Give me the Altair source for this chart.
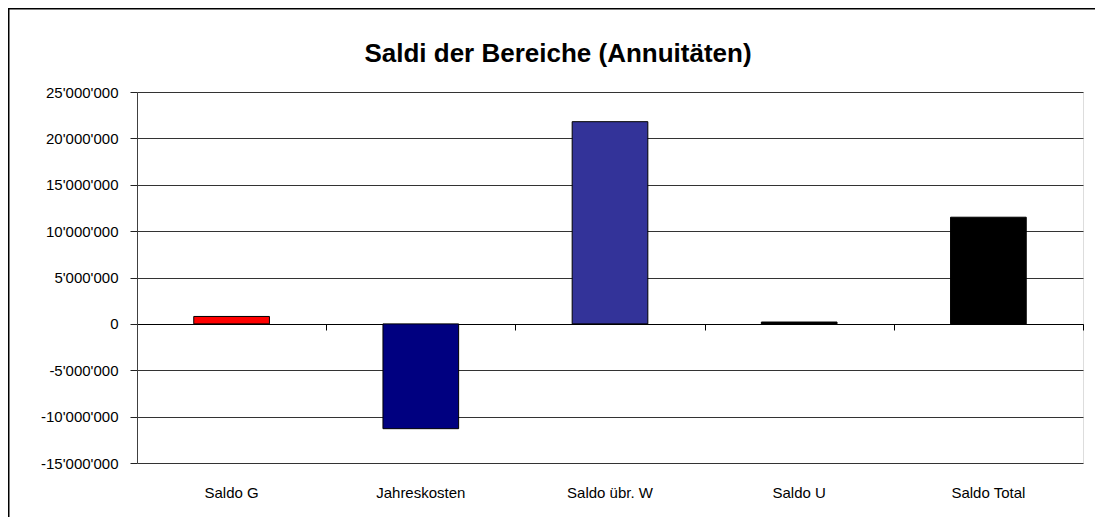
import altair as alt
import pandas as pd

categories = ["Saldo G", "Jahreskosten", "Saldo übr. W", "Saldo U", "Saldo Total"]
values = [800000, -11300000, 21800000, 200000, 11500000]
colors = ["#FF0000", "#000080", "#333399", "#000000", "#000000"]
y_ticks = [-15000000, -10000000, -5000000, 0, 5000000, 10000000, 15000000, 20000000, 25000000]
title_text = "Saldi der Bereiche (Annuitäten)"

df = pd.DataFrame({"cat": categories, "val": values})

FONT = "Liberation Sans"
W, H = 946, 371
PAD_L, PAD_T = 129, 84
ZERO_OFFSET = -round(H * 15 / 40)

label_expr = ("replace(replace(format(datum.value, ',.0f'), regexp(',', 'g'), \"'\"), "
              "regexp('\u2212', 'g'), '-')")

xscale = alt.Scale(domain=categories, paddingInner=0, paddingOuter=0)
yscale = alt.Scale(domain=[-15000000, 25000000], nice=False, zero=False)

bars = alt.Chart(df).mark_bar(stroke="black", strokeWidth=1,
                              width=alt.RelativeBandSize(0.4)).encode(
    x=alt.X("cat:N", sort=categories, scale=xscale,
            axis=alt.Axis(title=None, labelAngle=0, domain=False, ticks=False,
                          labelPadding=22, labelFontSize=15, labelFont=FONT,
                          labelColor="black", grid=False)),
    y=alt.Y("val:Q", scale=yscale,
            axis=alt.Axis(title=None, values=y_ticks, labelExpr=label_expr,
                          labelFontSize=15, labelFont=FONT, labelColor="black",
                          labelPadding=12, tickSize=7, tickColor="#222222",
                          domainColor="#404040", grid=True, gridColor="#333333",
                          gridWidth=1)),
    color=alt.Color("cat:N", scale=alt.Scale(domain=categories, range=colors), legend=None),
)

zero_axis = alt.Chart(df).mark_bar(opacity=0).encode(
    x=alt.X("cat:N", sort=categories, scale=xscale,
            axis=alt.Axis(orient="bottom", offset=ZERO_OFFSET, title=None, labels=False,
                          domain=True, domainColor="black", domainWidth=1,
                          ticks=True, tickBand="extent", tickSize=6,
                          tickColor="black", grid=False)),
    y=alt.Y("val:Q", scale=yscale),
)

frame = alt.Chart(pd.DataFrame({"a": [0]})).mark_rect(
    fill=None, stroke="black", strokeWidth=1.5
).encode(
    x=alt.value(-PAD_L + 0.75), x2=alt.value(W + 200),
    y=alt.value(-PAD_T + 0.75), y2=alt.value(H + 200),
)

chart = alt.layer(bars, zero_axis, frame).resolve_axis(x="independent").properties(
    width=W, height=H,
    autosize=alt.AutoSizeParams(type="none"),
    padding={"left": PAD_L, "top": PAD_T, "right": 12, "bottom": 54},
    title=alt.TitleParams(text=title_text, font=FONT, fontSize=26, fontWeight="bold",
                          color="black", anchor="middle", frame="group", dx=-52,
                          offset=-59),
).configure_view(stroke="#808080", strokeWidth=1).configure(background="white")

chart.save("out.html", embed_options={"renderer": "svg", "actions": False})
